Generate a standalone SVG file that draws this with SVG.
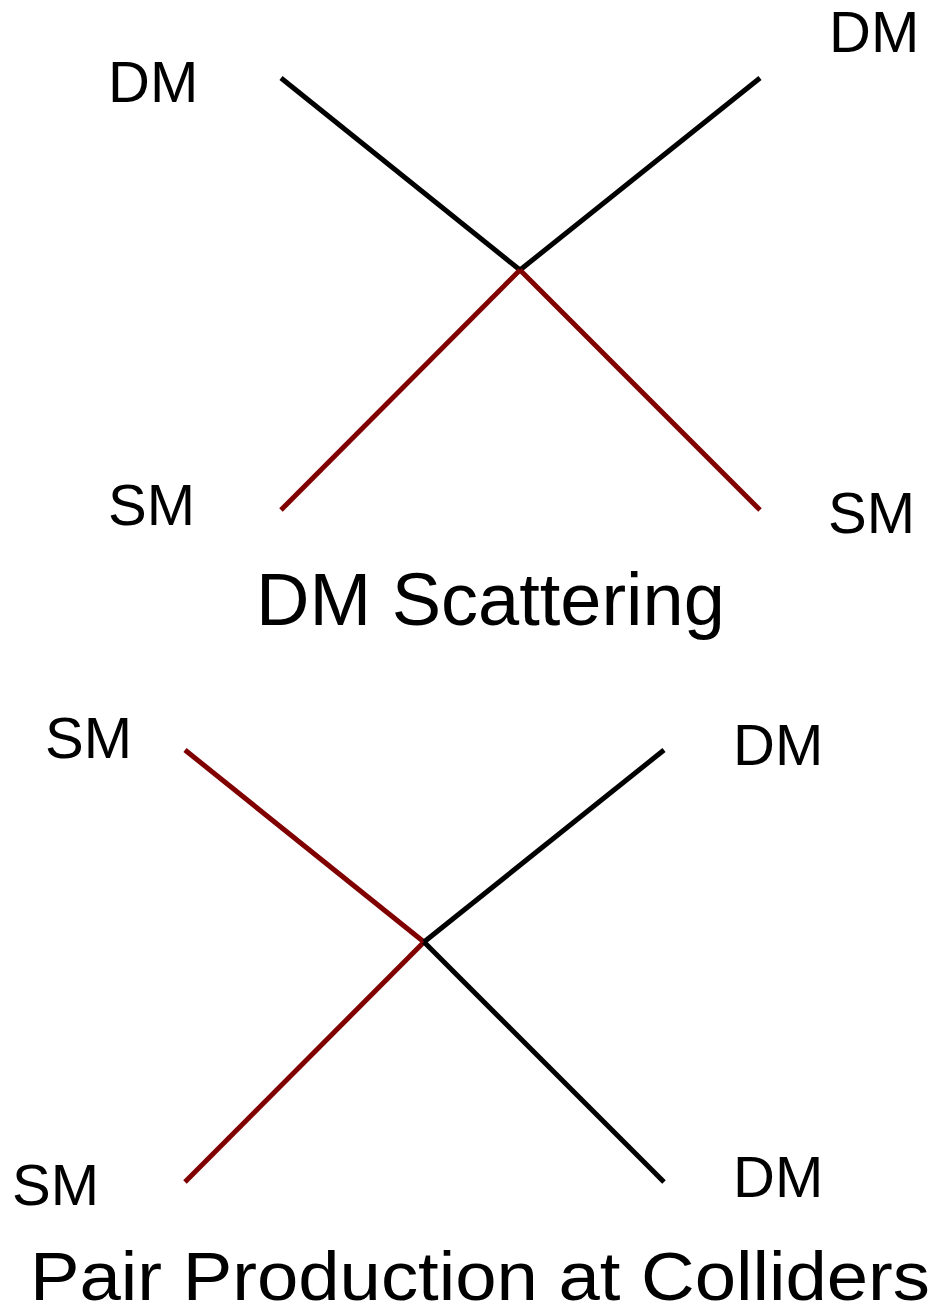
<svg xmlns="http://www.w3.org/2000/svg" width="937" height="1315" viewBox="0 0 937 1315">
<style>
.lbl{font-family:"Liberation Sans",Arial,sans-serif;font-size:58px;fill:#000}
.ttl{font-family:"Liberation Sans",Arial,sans-serif;font-size:74px;fill:#000}
.ttl2{font-family:"Liberation Sans",Arial,sans-serif;font-size:68px;fill:#000}
.dm{stroke:#000;stroke-width:5;fill:none}
.sm{stroke:#800000;stroke-width:5;fill:none}
</style>
<rect width="937" height="1315" fill="#fff"/>
<g id="connectors">
<line class="dm" x1="281" y1="78" x2="520" y2="270"/>
<line class="dm" x1="760" y1="78" x2="520" y2="270"/>
<line class="sm" x1="281" y1="510" x2="520" y2="270"/>
<line class="sm" x1="760" y1="510" x2="520" y2="270"/>
<line class="sm" x1="185" y1="750" x2="424" y2="942"/>
<line class="dm" x1="664" y1="750" x2="424" y2="942"/>
<line class="sm" x1="185" y1="1182" x2="424" y2="942"/>
<line class="dm" x1="664" y1="1182" x2="424" y2="942"/>
</g>
<g id="n-dm-tl"><text class="lbl" x="108" y="102">DM</text></g>
<g id="n-dm-tr"><text class="lbl" x="829" y="52">DM</text></g>
<g id="n-sm-bl"><text class="lbl" x="108" y="525">SM</text></g>
<g id="n-sm-br"><text class="lbl" x="828" y="533">SM</text></g>
<g id="title1"><text class="ttl" x="256" y="625">DM Scattering</text></g>
<g id="n2-sm-tl"><text class="lbl" x="45" y="758">SM</text></g>
<g id="n2-dm-tr"><text class="lbl" x="733" y="765">DM</text></g>
<g id="n2-sm-bl"><text class="lbl" x="12" y="1205">SM</text></g>
<g id="n2-dm-br"><text class="lbl" x="733" y="1197">DM</text></g>
<g id="title2"><text class="ttl2" x="30" y="1300" textLength="900" lengthAdjust="spacingAndGlyphs">Pair Production at Colliders</text></g>
</svg>
